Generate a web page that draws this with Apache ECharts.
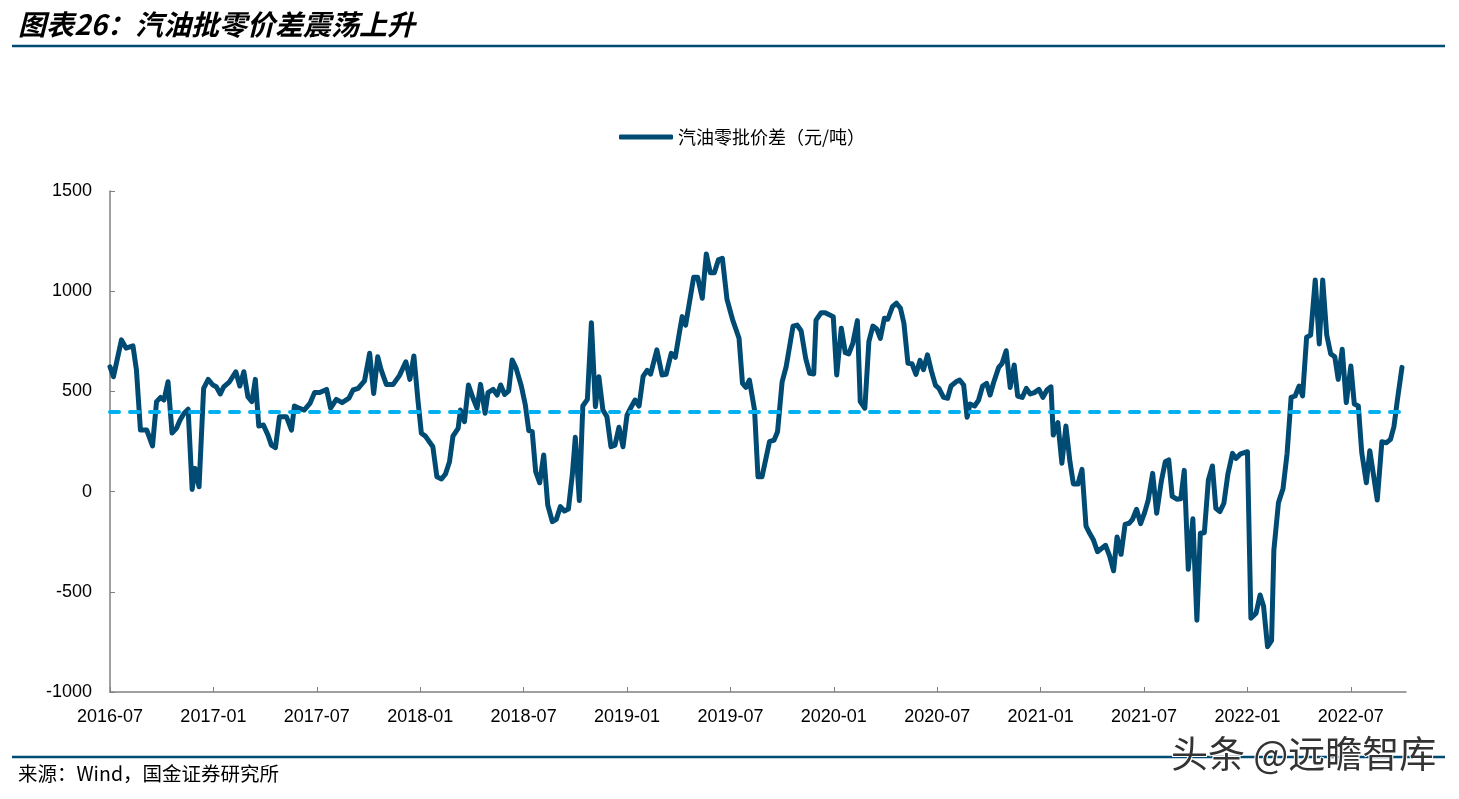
<!DOCTYPE html>
<html><head><meta charset="utf-8">
<script src="https://cdn.jsdelivr.net/npm/echarts@6/dist/echarts.min.js"></script>
<style>html,body{margin:0;padding:0;background:#fff}#c{width:1459px;height:799px}</style>
</head><body><div id="c"></div>
<script>
// ---- data ----
const dates = [
'2016-07-01','2016-07-07','2016-07-21','2016-07-29','2016-08-11','2016-08-17','2016-08-24','2016-09-05','2016-09-15','2016-09-22','2016-09-29',
'2016-10-05','2016-10-12','2016-10-19','2016-10-27','2016-11-03','2016-11-10','2016-11-17','2016-11-24','2016-11-29','2016-12-06','2016-12-14','2016-12-22','2016-12-30',
'2017-01-06','2017-01-13','2017-01-19','2017-01-29','2017-02-10','2017-02-17','2017-02-24','2017-03-01','2017-03-08','2017-03-14','2017-03-20','2017-03-28',
'2017-04-06','2017-04-12','2017-04-19','2017-04-26','2017-05-08','2017-05-17','2017-05-22','2017-05-30','2017-06-09','2017-06-19','2017-06-27',
'2017-07-06','2017-07-18','2017-07-25','2017-08-05','2017-08-15','2017-08-27','2017-09-04','2017-09-13','2017-09-24','2017-10-03','2017-10-10','2017-10-17','2017-10-23',
'2017-11-02','2017-11-14','2017-11-25','2017-12-06','2017-12-13','2017-12-20','2017-12-27',
'2018-01-03','2018-01-10','2018-01-23','2018-01-30','2018-02-08','2018-02-15','2018-02-22','2018-02-28','2018-03-07','2018-03-11','2018-03-18','2018-03-25',
'2018-04-03','2018-04-10','2018-04-16','2018-04-24','2018-04-29','2018-05-08','2018-05-15','2018-05-21','2018-05-28','2018-06-05','2018-06-11','2018-06-18','2018-06-27',
'2018-07-04','2018-07-10','2018-07-16','2018-07-22','2018-07-29','2018-08-06','2018-08-13','2018-08-21','2018-08-28','2018-09-05','2018-09-12','2018-09-19','2018-09-26',
'2018-10-01','2018-10-08','2018-10-14','2018-10-22','2018-10-29','2018-11-06','2018-11-12','2018-11-19','2018-11-26','2018-12-03','2018-12-10','2018-12-17','2018-12-24',
'2019-01-01','2019-01-08','2019-01-15','2019-01-22','2019-01-29','2019-02-06','2019-02-12','2019-02-23','2019-03-02','2019-03-09','2019-03-18','2019-03-25',
'2019-04-02','2019-04-07','2019-04-13','2019-04-27','2019-05-04','2019-05-12','2019-05-19','2019-05-26','2019-06-03','2019-06-10','2019-06-17','2019-06-25',
'2019-07-05','2019-07-16','2019-07-22','2019-07-28','2019-08-04','2019-08-13','2019-08-19','2019-08-26','2019-09-09','2019-09-17','2019-09-23',
'2019-10-01','2019-10-08','2019-10-20','2019-10-27','2019-11-04','2019-11-12','2019-11-19','2019-11-26','2019-11-30','2019-12-09','2019-12-16','2019-12-30',
'2020-01-06','2020-01-14','2020-01-21','2020-01-27','2020-02-04','2020-02-12','2020-02-17','2020-02-25','2020-03-02','2020-03-09','2020-03-16','2020-03-22','2020-03-29',
'2020-04-05','2020-04-13','2020-04-20','2020-04-27','2020-05-03','2020-05-10','2020-05-17','2020-05-24','2020-05-31','2020-06-07','2020-06-14','2020-06-21','2020-06-28',
'2020-07-04','2020-07-12','2020-07-19','2020-07-25','2020-08-04','2020-08-10','2020-08-17','2020-08-23','2020-08-28','2020-09-06','2020-09-13','2020-09-20','2020-09-27',
'2020-10-03','2020-10-09','2020-10-18','2020-10-24','2020-11-01','2020-11-08','2020-11-15','2020-11-21','2020-11-29','2020-12-06','2020-12-13','2020-12-20','2020-12-28',
'2021-01-05','2021-01-12','2021-01-19','2021-01-23','2021-01-31','2021-02-08','2021-02-15','2021-02-22','2021-02-28','2021-03-06','2021-03-13','2021-03-20','2021-03-27',
'2021-04-03','2021-04-10','2021-04-24','2021-05-01','2021-05-08','2021-05-14','2021-05-21','2021-05-28','2021-06-05','2021-06-11','2021-06-18','2021-06-25',
'2021-07-02','2021-07-08','2021-07-16','2021-07-23','2021-07-31','2021-08-08','2021-08-14','2021-08-20','2021-08-28','2021-09-05','2021-09-11','2021-09-18','2021-09-26',
'2021-10-03','2021-10-09','2021-10-16','2021-10-23','2021-10-30','2021-11-06','2021-11-13','2021-11-20','2021-11-27','2021-12-05','2021-12-11','2021-12-19',
'2022-01-01','2022-01-07','2022-01-16','2022-01-23','2022-01-29','2022-02-06','2022-02-13','2022-02-17','2022-02-25','2022-03-03','2022-03-10','2022-03-17','2022-03-24',
'2022-04-01','2022-04-07','2022-04-14','2022-04-21','2022-04-29','2022-05-06','2022-05-12','2022-05-19','2022-05-26','2022-06-03','2022-06-09','2022-06-16','2022-06-23',
'2022-07-01','2022-07-07','2022-07-14','2022-07-20','2022-07-28','2022-08-04','2022-08-17','2022-08-25','2022-09-03','2022-09-10','2022-09-16','2022-09-22','2022-09-30'
];
const values = [
623,573,757,716,727,607,307,307,228,449,470,
457,548,292,317,357,391,411,11,116,24,515,560,532,
523,487,523,548,598,527,598,474,449,560,327,332,
282,232,219,374,374,307,427,416,407,440,494,
494,510,416,460,444,466,507,515,552,690,490,673,607,
535,535,580,648,560,677,457,
291,277,224,74,63,88,149,277,316,407,349,532,
466,416,535,391,494,510,482,532,485,503,657,615,527,
432,304,299,99,44,183,-67,-150,-138,-75,-97,-87,91,
271,-45,427,460,843,424,573,407,374,224,232,321,224,
382,421,457,427,575,605,586,707,582,585,690,670,
790,873,831,1069,1069,965,1186,1092,1092,1156,1164,960,
856,765,540,520,557,407,74,74,249,257,299,
548,623,826,831,803,665,590,587,856,893,893,873,
582,815,693,687,740,853,449,416,748,826,810,765,865,
860,923,940,915,840,640,638,585,655,608,682,600,530,
515,470,466,527,548,557,532,371,437,427,457,527,540,
482,543,620,640,703,520,632,477,470,515,487,494,510,
470,507,523,282,344,141,327,149,38,38,111,-172,-212,
-242,-300,-268,-321,-395,-226,-313,-164,-158,-138,-88,-160,
-105,-46,91,-108,50,149,158,-24,-38,-36,106,-388,-136,
-642,-208,-205,58,128,-83,-100,-58,88,191,166,188,
199,-632,-607,-516,-571,-774,-744,-291,-55,16,190,470,477,
527,477,770,781,1056,737,1056,781,687,673,560,710,444,
627,437,427,194,44,204,-42,249,244,261,324,457,620
];
const xTickLabels = ['2016-07','2017-01','2017-07','2018-01','2018-07','2019-01','2019-07','2020-01','2020-07','2021-01','2021-07','2022-01','2022-07'];
const yMin = -1000, yMax = 1500, yStep = 500;
const refLevel = 400;
const seriesName = '汽油零批价差（元/吨）';
const titleText = '图表26：汽油批零价差震荡上升';
const sourceText = '来源：Wind，国金证券研究所';
const watermarkText = '头条 @远瞻智库';

// months since 2016-07 (axis scale)
function toMonth(s){ const p = s.split('-').map(Number); return (p[0]-2016)*12 + (p[1]-7) + ((p[2]||1)-1)/30; }
const tickVals = xTickLabels.map(toMonth);
const labelOf = {}; xTickLabels.forEach(l => { labelOf[toMonth(l)] = l; });
const seriesData = dates.map((d,i) => [toMonth(d), values[i]]);

const dark = '#004b73';
const axisFont = '"Liberation Sans", Arial, sans-serif';
const cjkFont = '"Noto Sans CJK SC", sans-serif';
const chart = echarts.init(document.getElementById('c'), null, {renderer:'canvas'});
chart.setOption({
  animation:false,
  backgroundColor:'#fff',
  grid:{left:110, right:53, top:191, bottom:107},
  legend:{
    data:[seriesName], left:614, top:123, icon:'roundRect', itemWidth:54, itemHeight:5, itemGap:6,
    textStyle:{fontSize:18, color:'#000', fontFamily:cjkFont},
    itemStyle:{color:dark}
  },
  xAxis:{
    type:'value', min:0, max:75.2,
    axisLine:{show:true, onZero:false, lineStyle:{color:'#808080', width:1.5}},
    axisTick:{show:true, inside:true, length:5, customValues:tickVals, lineStyle:{color:'#808080', width:1}},
    axisLabel:{customValues:tickVals, formatter:v => labelOf[v] || '', fontSize:18, color:'#000', margin:16, fontFamily:axisFont},
    splitLine:{show:false}
  },
  yAxis:{
    type:'value', min:yMin, max:yMax, interval:yStep,
    axisLine:{show:true, lineStyle:{color:'#808080', width:1.5}},
    axisTick:{show:true, inside:true, length:5, lineStyle:{color:'#808080', width:1}},
    axisLabel:{fontSize:18, color:'#000', margin:18, fontFamily:axisFont, formatter:v => String(v)},
    splitLine:{show:false}
  },
  series:[{
    name:seriesName, type:'line', data:seriesData, symbol:'none', smooth:false,
    lineStyle:{color:dark, width:5, join:'round', cap:'round'},
    itemStyle:{color:dark},
    markLine:{
      silent:true, symbol:['none','none'], label:{show:false},
      lineStyle:{color:'#00b0f0', width:4, type:[9,11], cap:'round'},
      data:[{yAxis:refLevel}]
    }
  }],
  graphic:[
    {type:'text', left:18, top:10, style:{text:titleText, fontSize:28, fontWeight:'bold', fontStyle:'italic', fill:'#000', fontFamily:cjkFont}},
    {type:'line', shape:{x1:12, y1:46, x2:1445, y2:46}, style:{stroke:dark, lineWidth:2.5}},
    {type:'line', shape:{x1:12, y1:757, x2:1445, y2:757}, style:{stroke:dark, lineWidth:2.5}},
    {type:'text', left:18, top:764, style:{text:sourceText, fontSize:19.5, fill:'#000', fontFamily:cjkFont}},
    {type:'text', left:1170, top:734, z:100, style:{text:watermarkText, fontSize:37, fill:'#333', stroke:'#fff', lineWidth:2, fontFamily:cjkFont}}
  ]
});
</script></body></html>
